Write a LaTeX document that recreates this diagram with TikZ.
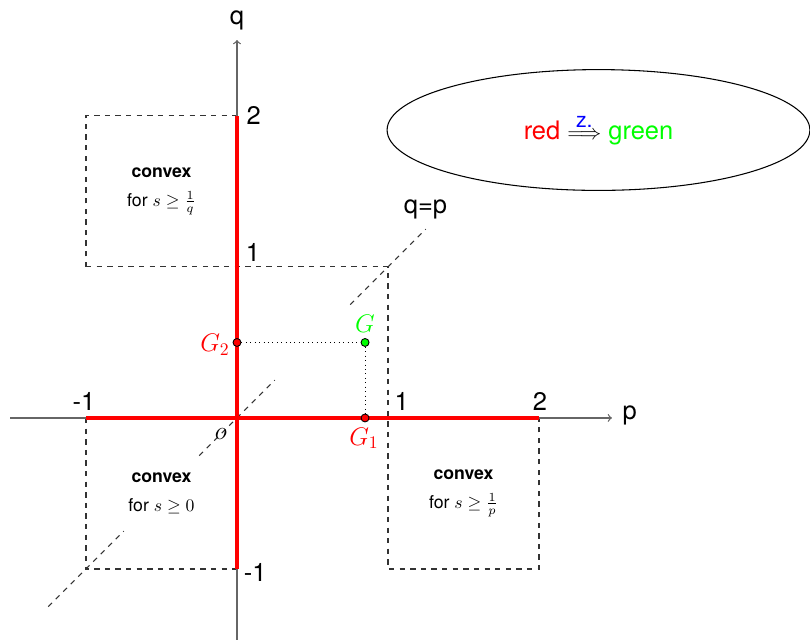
\documentclass[tikz,border=0pt]{standalone}
\usepackage{fontspec}
\setmainfont{TeX Gyre Heros}
\usepackage{amsmath}
\usetikzlibrary{shapes.geometric}
\begin{document}
\begin{tikzpicture}[x=3cm,y=3cm,
  lbl/.style={font=\fontsize{14.4}{17}\selectfont, inner sep=0pt},
  boxtext/.style={font=\fontsize{10}{16}\selectfont, align=center, inner sep=0pt},
  axisline/.style={draw=black!60, line width=0.7pt, -to},
  redline/.style={draw=red, line width=2.2pt},
  dshline/.style={draw=black!80, dashed, line width=0.6pt},
  dotline/.style={draw=black, dotted, line width=0.5pt},
  ptdot/.style={circle, draw=black, line width=0.5pt, inner sep=0pt, minimum size=4.5pt}]
\useasboundingbox (-1.5695,-1.490) rectangle (3.7947,2.768);
% coordinates
\coordinate (O) at (0,0);
\coordinate (pL) at (-1.503,0);
\coordinate (pR) at (2.483,0);
\coordinate (qB) at (0,-1.47);
\coordinate (qT) at (0,2.503);
\coordinate (m1m1) at (-1,-1);
\coordinate (m10) at (-1,0);
\coordinate (m11) at (-1,1);
\coordinate (m12) at (-1,2);
\coordinate (z2) at (0,2);
\coordinate (zm1) at (0,-1);
\coordinate (o11) at (1,1);
\coordinate (o1m1) at (1,-1);
\coordinate (t2m1) at (2,-1);
\coordinate (t20) at (2,0);
\coordinate (d1) at (-1.25,-1.25);
\coordinate (d2) at (-0.75,-0.75);
\coordinate (d3) at (-0.25,-0.25);
\coordinate (d4) at (0.25,0.25);
\coordinate (d5) at (0.75,0.75);
\coordinate (d6) at (1.25,1.25);
% dashed boxes
\draw[dshline] (m11) -- (m12) -- (z2);
\draw[dshline] (m11) -- (o11) -- (o1m1) -- (t2m1) -- (t20);
\draw[dshline] (m10) -- (m1m1) -- (zm1);
% diagonal q=p
\draw[dshline] (d1) -- (d2);
\draw[dshline] (d3) -- (d4);
\draw[dshline] (d5) -- (d6);
% axes
\draw[axisline] (pL) -- (pR);
\draw[axisline] (qB) -- (qT);
% red segments
\draw[redline] (m10) -- (t20);
\draw[redline] (zm1) -- (z2);
% points
\node[ptdot, fill=red] (G2) at (0,0.5) {};
\node[ptdot, fill=green] (G) at (0.848,0.5) {};
\node[ptdot, fill=red] (G1) at (0.848,0) {};
\draw[dotline] (G2) -- (G);
\draw[dotline] (G) -- (G1);
% labels
\node[lbl] (plab) at (2.60,0.02) {p};
\node[lbl] (qlab) at (0,2.63) {q};
\node[lbl] (t2q) at (0.11,2.0) {2};
\node[lbl] (t1q) at (0.106,1.093) {1};
\node[lbl] (tm1q) at (0.12,-1.02) {-1};
\node[lbl] (tm1p) at (-1.013,0.108) {-1};
\node[lbl] (t1p) at (1.09,0.108) {1};
\node[lbl] (t2p) at (2.007,0.108) {2};
\node[lbl] (qp) at (1.248,1.384) {q=p};
\node[lbl] (olab) at (-0.106,-0.106) {$o$};
\node[lbl, text=red, anchor=base east] (G2lab) at (-0.046,0.442) {$G_2$};
\node[lbl, text=green, anchor=base] (Glab) at (0.848,0.563) {$G$};
\node[lbl, text=red, anchor=base] (G1lab) at (0.841,-0.179) {$G_1$};
% convex texts
\node[boxtext] (c1) at (-0.5,1.5) {\textbf{convex}\\for $s\geq\frac{1}{q}$};
\node[boxtext] (c2) at (-0.5,-0.5) {\textbf{convex}\\for $s\geq0$};
\node[boxtext] (c3) at (1.5,-0.5) {\textbf{convex}\\for $s\geq\frac{1}{p}$};
% ellipse
\node[ellipse, draw=black, line width=0.6pt, minimum width=8.4cm, minimum height=2.4cm, font=\fontsize{14.4}{17}\selectfont] (ell) at (2.394,1.907)
  {\textcolor{red}{red} {\fontsize{11.5}{12}\selectfont$\overset{\mbox{\fontsize{12}{12}\selectfont\color{blue}z.}}{\Longrightarrow}$} \textcolor{green}{green}};
\end{tikzpicture}
\end{document}
